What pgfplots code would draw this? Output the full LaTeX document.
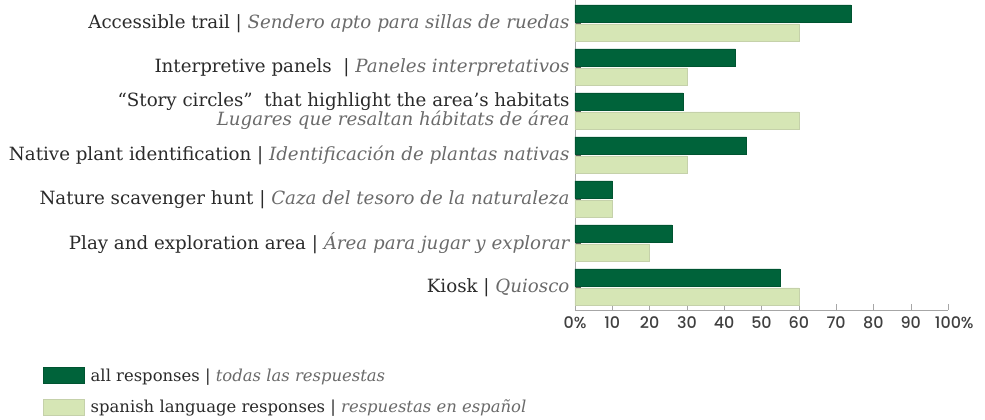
\documentclass[border=0pt]{standalone}
\usepackage{fontspec}
\setmainfont{DejaVu Serif}
\newfontfamily\tickfont{Poppins}[UprightFont={* Medium}]
\usepackage{pgfplots}
\pgfplotsset{compat=1.18}
\definecolor{darkg}{HTML}{00633A}
\definecolor{lightg}{HTML}{D6E6B5}
\definecolor{engc}{HTML}{2A2A2A}
\definecolor{spc}{HTML}{6A6A6A}
\newcommand{\lab}[2]{\textcolor{engc}{#1 |} \textcolor{spc}{\itshape #2}}
\begin{document}
\begin{tikzpicture}
\begin{axis}[
  scale only axis, width=373bp, height=310bp,
  xmin=0, xmax=100, ymin=-0.523, ymax=6.523,
  axis x line*=bottom, axis y line*=left,
  axis line style={draw=gray!70},
  tick align=inside,
  major tick length=6bp,
  xtick={0,10,...,100},
  xticklabels={0\%,10,20,30,40,50,60,70,80,90,100\rlap{\%}},
  xticklabel style={font=\tickfont\fontsize{16}{16}\selectfont, text=black!75, yshift=-3bp},
  xtick style={draw=gray!70},
  ytick={0,...,6},
  ytick style={draw=black!70},
  yticklabels={
    {\lab{Kiosk}{Quiosco}},
    {\lab{Play and exploration area}{Área para jugar y explorar}},
    {\lab{Nature scavenger hunt}{Caza del tesoro de la naturaleza}},
    {\lab{Native plant identification}{Identificación de plantas nativas}},
    {\textcolor{engc}{“Story circles”\ \ that highlight the area’s habitats}\\\textcolor{spc}{\itshape Lugares que resaltan hábitats de área}},
    {\lab{Interpretive panels\ }{Paneles interpretativos}},
    {\lab{Accessible trail}{Sendero apto para sillas de ruedas}}
  },
  yticklabel style={align=right, font=\fontsize{18.3}{17}\selectfont, xshift=-2bp},
  legend style={at={(axis description cs:-1.434,-0.175)}, anchor=north west, draw=none,
    font=\fontsize{16.5}{17}\selectfont, row sep=13bp, cells={anchor=west}},
  legend cell align=left,
]
\addplot[xbar, bar width=17.5bp, bar shift=9.5bp, fill=darkg, draw=darkg!85!black,
  legend image code/.code={\draw[fill=darkg, draw=darkg!85!black] (0bp,-8bp) rectangle (41bp,8bp);}]
  coordinates {(55,0) (26,1) (10,2) (46,3) (29,4) (43,5) (74,6)};
\addlegendentry{\hspace*{4bp}\lab{all responses}{todas las respuestas}}
\addplot[xbar, bar width=17.5bp, bar shift=-9.5bp, fill=lightg, draw=lightg!80!gray,
  legend image code/.code={\draw[fill=lightg, draw=lightg!80!gray] (0bp,-8bp) rectangle (41bp,8bp);}]
  coordinates {(60,0) (20,1) (10,2) (30,3) (60,4) (30,5) (60,6)};
\addlegendentry{\hspace*{4bp}\lab{spanish language responses}{respuestas en español}}
\coordinate (bbsw) at (axis description cs:-1.5416,-0.3516);
\coordinate (bbne) at (axis description cs:1.0992,1);
\end{axis}
\path (bbsw) rectangle (bbne);
\end{tikzpicture}
\end{document}
